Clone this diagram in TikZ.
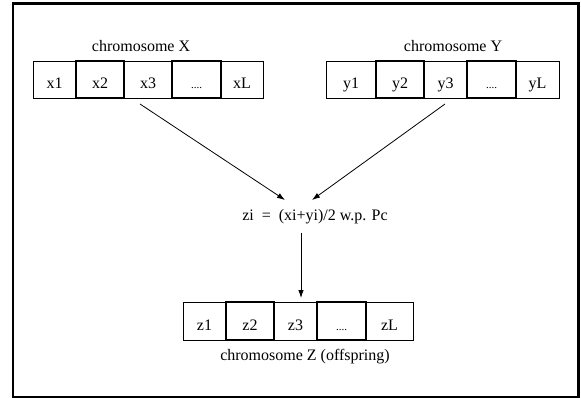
\documentclass[tikz,border=0pt]{standalone}
\usepackage{fontspec}
\setmainfont{Liberation Serif}
\usetikzlibrary{arrows.meta}
\begin{document}
\begin{tikzpicture}[x=1pt,y=-1pt,
  every node/.style={font=\fontsize{16}{18}\selectfont},
  cell/.style={draw=black,line width=0.8pt,inner sep=0pt,minimum height=37pt,
    text height=19pt,text depth=0pt},
  thick cell/.style={cell,line width=1.4pt},
  dots/.style={font=\fontsize{11}{12}\selectfont},
  lab/.style={anchor=base,inner sep=0pt},
  arr/.style={line width=0.8pt,-{Latex[length=8pt,width=5.5pt]}}]
\useasboundingbox (0,0) rectangle (581,398);
\draw[line width=2.2pt] (13,3.5) rectangle (578.5,397);
% chromosome X
\node[lab] (lx) at (141,52) {chromosome X};
\node[cell,minimum width=43pt] (x1) at (54.5,79.5) {x1};
\node[cell,minimum width=48pt] (x3) at (148,79.5) {x3};
\node[cell,minimum width=42pt] (xL) at (242,79.5) {xL};
\node[thick cell,minimum width=48pt] (x2) at (100,79.5) {x2};
\node[thick cell,minimum width=49pt,dots] (xd) at (196.5,79.5) {....};
% chromosome Y
\node[lab] (ly) at (453,52) {chromosome Y};
\node[cell,minimum width=50pt] (y1) at (351,79.5) {y1};
\node[cell,minimum width=43pt] (y3) at (445.5,79.5) {y3};
\node[cell,minimum width=43pt] (yL) at (537.5,79.5) {yL};
\node[thick cell,minimum width=48pt] (y2) at (400,79.5) {y2};
\node[thick cell,minimum width=49pt,dots] (yd) at (491.5,79.5) {....};
% formula
\node[lab] (f) at (315,221) {zi \ =\ \ (xi+yi)/2 w.p. Pc};
% chromosome Z
\node[cell,minimum width=43pt,minimum height=38pt] (z1) at (204.5,321) {z1};
\node[cell,minimum width=43pt,minimum height=38pt] (z3) at (295.5,321) {z3};
\node[cell,minimum width=47pt,minimum height=38pt] (zL) at (389.5,321) {zL};
\node[thick cell,minimum width=48pt,minimum height=38pt] (z2) at (250,321) {z2};
\node[thick cell,minimum width=49pt,minimum height=38pt,dots] (zd) at (341.5,321) {....};
\node[lab] (lz) at (305,360) {chromosome Z (offspring)};
% connectors
\coordinate (sx) at (140,104);
\coordinate (ex) at (285,200);
\coordinate (sy) at (445,104);
\coordinate (ey) at (312,200);
\coordinate (sf) at (301,233);
\coordinate (ez) at (301,298);
\draw[arr] (sx) -- (ex);
\draw[arr] (sy) -- (ey);
\draw[arr] (sf) -- (ez);
\end{tikzpicture}
\end{document}
